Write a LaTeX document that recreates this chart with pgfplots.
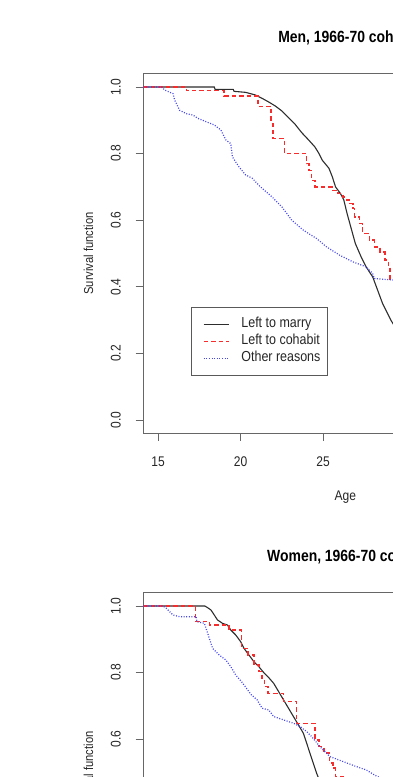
\documentclass[border=0pt]{standalone}
\usepackage{pgfplots}
\pgfplotsset{compat=1.18}
\usepackage{fontspec}
\setmainfont{Liberation Sans}[FakeStretch=0.86]
\definecolor{cohabred}{RGB}{245,45,45}
\definecolor{otherblue}{RGB}{70,70,240}
\definecolor{marrygray}{RGB}{45,45,45}
\pgfplotsset{
  survstyle/.style={
    scale only axis, width=404.25pt, height=359.6pt,
    xmin=14.09, xmax=38.59, ymin=-0.04, ymax=1.04,
    axis line style={black!60, line width=0.8pt},
    tick align=outside, major tick length=7.5pt,
    tick style={black!60, line width=0.8pt},
    xtick={15,20,25,30,35}, ytick={0,0.2,0.4,0.6,0.8,1.0},
    xtick pos=bottom, ytick pos=left,
    /pgf/number format/assume math mode=true,
    ticklabel style={font=\fontsize{14}{16}\selectfont, text=black!85},
    xticklabel style={anchor=base, inner sep=0pt, yshift=-25.7pt},
    yticklabel style={/pgf/number format/.cd, fixed, fixed zerofill, precision=1, /tikz/.cd,
      xshift=-15pt, rotate=90, anchor=base, inner sep=0pt},
    xlabel style={at={(axis description cs:0.5,0)}, anchor=base, yshift=-66.7pt, inner sep=0pt,
      font=\fontsize{14}{16}\selectfont, text=black!85},
    ylabel style={at={([xshift=-50pt]axis description cs:0,0.5)}, anchor=base, inner sep=0pt,
      font=\fontsize{13}{15}\selectfont, text=black!85},
    title style={at={(axis description cs:0.5,1)}, anchor=base, yshift=25pt, inner sep=0pt,
      font=\fontsize{16.2}{19}\selectfont\bfseries},
    xlabel={Age}, ylabel={Survival function},
  },
  survmarry/.style={draw=marrygray, color=marrygray, line width=1.1pt, solid},
  survcohab/.style={draw=cohabred, color=cohabred, line width=1.4pt, dash pattern=on 4.5pt off 3pt},
  survother/.style={draw=otherblue, color=otherblue, line width=1.2pt, dash pattern=on 1pt off 1.6pt},
}
\begin{document}
\begin{tikzpicture}
\useasboundingbox (0pt,0pt) rectangle (393pt,-777pt);
% ---------------- Men ----------------
\begin{axis}[survstyle, at={(143.15pt,-73.7pt)}, anchor=north west,
  title={Men, 1966-70 cohort},
  legend cell align=left,
  legend image code/.code={\draw[#1] (8pt,0pt) -- (33pt,0pt); \path (0pt,0pt);},
  legend style={at={(axis cs:17.0,0.339)}, anchor=north west, draw=black!65, line width=0.7pt,
    inner xsep=3.5pt, inner ysep=8.5pt, row sep=0pt, column sep=8.5pt,
    font=\fontsize{14.5}{16}\selectfont,
    nodes={inner xsep=3.5pt, inner ysep=1.5pt, text height=10pt, text depth=4pt, text=black!85}},
]
\addplot[survmarry] coordinates {
(14.09,1.000) (18.40,1.000) (18.45,0.993) (19.55,0.993) (19.60,0.987) (20.30,0.984)
(20.90,0.976) (21.30,0.966) (21.70,0.955) (22.10,0.943) (22.50,0.928) (22.90,0.908)
(23.30,0.888) (23.70,0.863) (24.10,0.842) (24.50,0.820) (24.75,0.800) (24.95,0.780)
(25.35,0.756) (25.55,0.731) (25.75,0.700) (26.05,0.680) (26.25,0.661) (26.45,0.620)
(26.70,0.575) (26.95,0.530) (27.30,0.490) (27.60,0.460) (28.00,0.430) (28.30,0.390)
(28.60,0.350) (28.90,0.320) (29.10,0.300) (29.60,0.260) (30.50,0.200) (32.00,0.120)
(34.00,0.060) (36.00,0.030) (38.00,0.010)};
\addlegendentry{Left to marry}
\addplot[survcohab, const plot] coordinates {
(14.09,1.000) (16.70,0.989) (19.00,0.973) (21.05,0.941) (21.85,0.890) (21.95,0.846)
(22.65,0.800) (24.00,0.770) (24.15,0.750) (24.30,0.720) (24.50,0.700) (25.60,0.690)
(25.90,0.680) (26.20,0.670) (26.40,0.661) (26.60,0.650) (26.80,0.635) (26.90,0.610)
(27.20,0.590) (27.40,0.560) (27.80,0.540) (28.10,0.520) (28.45,0.505) (28.75,0.480)
(28.95,0.460) (29.05,0.420) (29.25,0.390) (29.60,0.360) (30.50,0.330) (32.00,0.300)
(35.00,0.280) (38.00,0.280)};
\addlegendentry{Left to cohabit}
\addplot[survother] coordinates {
(14.09,1.000) (15.20,1.000) (15.40,0.991) (15.90,0.980) (16.00,0.961) (16.30,0.930)
(16.70,0.920) (17.10,0.916) (17.40,0.906) (17.90,0.896) (18.40,0.886) (18.80,0.871)
(19.10,0.841) (19.40,0.830) (19.50,0.790) (19.90,0.760) (20.30,0.736) (20.70,0.726)
(21.20,0.700) (21.90,0.670) (22.50,0.640) (23.10,0.600) (23.80,0.570) (24.60,0.545)
(25.20,0.520) (26.00,0.495) (26.80,0.475) (27.60,0.460) (28.00,0.440) (28.10,0.425)
(29.30,0.420) (30.00,0.400) (31.50,0.370) (33.00,0.350) (35.00,0.330) (38.00,0.320)};
\addlegendentry{Other reasons}
\end{axis}
% ---------------- Women ----------------
\begin{axis}[survstyle, at={(143.15pt,-592.7pt)}, anchor=north west,
  title={Women, 1966-70 cohort}]
\addplot[survmarry] coordinates {
(14.09,1.000) (17.83,1.000) (18.00,0.995) (18.20,0.988) (18.40,0.973) (18.60,0.958)
(18.90,0.948) (19.20,0.943) (19.40,0.928) (19.70,0.913) (20.00,0.893) (20.20,0.873)
(20.50,0.853) (20.80,0.833) (21.10,0.818) (21.40,0.800) (21.70,0.785) (22.00,0.768)
(22.30,0.743) (22.60,0.718) (22.90,0.693) (23.20,0.668) (23.50,0.643) (23.80,0.618)
(24.00,0.588) (24.20,0.558) (24.40,0.528) (24.60,0.498) (24.70,0.486) (25.00,0.450)
(25.50,0.380) (26.50,0.280) (28.00,0.150) (30.00,0.070) (33.00,0.030) (38.00,0.020)};
\addplot[survcohab, const plot] coordinates {
(14.09,1.000) (17.25,0.953) (18.10,0.943) (19.30,0.928) (20.05,0.873) (20.45,0.853)
(20.80,0.823) (21.10,0.803) (21.30,0.783) (21.45,0.758) (21.65,0.738) (22.60,0.713)
(23.40,0.648) (24.50,0.598) (24.75,0.578) (25.05,0.558) (25.40,0.528) (25.60,0.513)
(25.75,0.488) (26.20,0.450) (27.00,0.400) (28.50,0.330) (31.00,0.270) (35.00,0.250)
(38.00,0.250)};
\addplot[survother] coordinates {
(14.09,1.000) (15.30,1.000) (15.50,0.993) (15.70,0.983) (15.90,0.973) (16.30,0.968)
(17.30,0.968) (17.35,0.953) (17.80,0.948) (17.90,0.933) (18.10,0.903) (18.30,0.873)
(18.70,0.853) (19.10,0.838) (19.40,0.818) (19.70,0.793) (20.05,0.773) (20.35,0.753)
(20.65,0.733) (21.00,0.718) (21.30,0.693) (21.70,0.688) (22.00,0.668) (22.60,0.658)
(23.20,0.648) (23.60,0.638) (24.00,0.623) (24.30,0.608) (24.80,0.578) (25.40,0.548)
(26.20,0.533) (27.00,0.518) (27.60,0.508) (28.10,0.493) (28.60,0.480) (30.00,0.450)
(32.00,0.420) (35.00,0.400) (38.00,0.390)};
\end{axis}
\end{tikzpicture}
\end{document}
